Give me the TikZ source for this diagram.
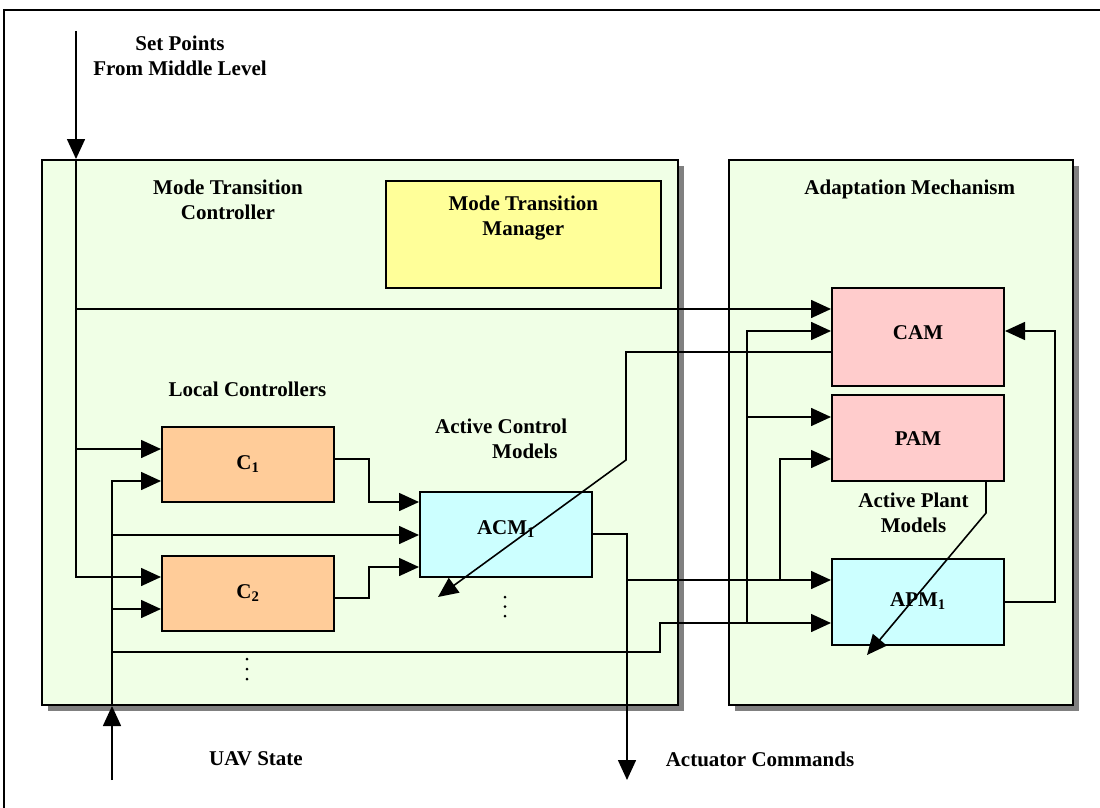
\documentclass[tikz,border=0pt]{standalone}
\usepackage{fontspec}
\setmainfont{Liberation Serif}
\usetikzlibrary{arrows.meta,shadows}
\definecolor{bggreen}{RGB}{240,255,230}
\definecolor{mtmyellow}{RGB}{255,255,153}
\definecolor{pinkbox}{RGB}{255,204,204}
\definecolor{cyanbox}{RGB}{204,255,255}
\definecolor{tanbox}{RGB}{255,204,153}
\begin{document}
\begin{tikzpicture}[x=1pt,y=-1pt,
  every node/.style={font=\fontsize{21}{25}\selectfont\bfseries},
  wire/.style={line width=1.6pt},
  arr/.style={line width=1.6pt,-{Triangle[length=20pt,width=18pt]}},
  bigbox/.style={draw,line width=2pt,fill=bggreen,inner sep=0pt,
    drop shadow={shadow xshift=6pt,shadow yshift=-6pt,fill=black!50,opacity=1}},
  blk/.style={draw,line width=2pt,inner sep=0pt,minimum width=172pt,text height=14pt},
  lbl/.style={inner sep=0pt,align=center},
  dotmark/.style={circle,fill=black,inner sep=0pt,minimum size=3pt}]
\useasboundingbox (0,0) rectangle (1100,808);
% outer frame
\draw[line width=1.6pt] (4,808) -- (4,10) -- (1100,10);

% containers
\node[bigbox,minimum width=636pt,minimum height=545pt] (mtc) at (360,432.5) {};
\node[bigbox,minimum width=344pt,minimum height=545pt] (am) at (901,432.5) {};

% blocks
\node[blk,fill=mtmyellow,minimum width=275pt,minimum height=107pt] (mtm) at (523.5,234.5) {};
\node[blk,fill=pinkbox,minimum height=98pt,text depth=10pt] (cam) at (918,337) {CAM};
\node[blk,fill=pinkbox,minimum height=86pt,text depth=0pt] (pam) at (918,438) {PAM};
\node[blk,fill=cyanbox,minimum height=86pt,text depth=6pt] (apm) at (918,602) {APM\textsubscript{1}};
\node[blk,fill=tanbox,minimum height=75pt,text depth=5pt] (c1) at (248,464.5) {C\textsubscript{1}};
\node[blk,fill=tanbox,minimum height=75pt,text depth=4pt] (c2) at (248,593.5) {C\textsubscript{2}};
\node[blk,fill=cyanbox,minimum height=85pt,text depth=15pt] (acm) at (506,534.5) {ACM\textsubscript{1}};

% labels
\node[lbl] (sptext) at (180,55.4) {Set Points\\From Middle Level};
\node[lbl] (mtctext) at (228,199.4) {Mode Transition\\Controller};
\node[lbl] (mtmtext) at (523.3,218.5) {Mode Transition\\Manager};
\node[lbl] (amtext) at (909.7,189.3) {Adaptation Mechanism};
\node[lbl] (lctext) at (247.5,389.5) {Local Controllers};
\node[lbl,align=left,anchor=west] (acmtext) at (435,438.6) {Active Control\\\hspace*{57pt}Models};
\node[lbl] (apmtext) at (913.5,513) {Active Plant\\Models};
\node[lbl] (uavtext) at (256,759) {UAV State};
\node[lbl] (acttext) at (760,759) {Actuator Commands};

% vertical ellipses
\foreach \yy [count=\i] in {597,606.5,616} \node[dotmark] (da\i) at (505,\yy) {};
\foreach \yy [count=\i] in {659,669,679} \node[dotmark] (db\i) at (247,\yy) {};

% free ends
\coordinate (sptop) at (76,31);
\coordinate (uavbot) at (112,780);
\coordinate (actbot) at (627,780);
\coordinate (camfb) at (438,597);
\coordinate (pamfb) at (867,655);

% set points bus
\draw[arr] (sptop) -- (mtc.north -| sptop);
\draw[arr] (76,160) -- (76,577) -- (c2.west |- 0,577);
\draw[arr] (76,309) -- (cam.west |- 0,309);
\draw[arr] (76,449) -- (c1.west |- 0,449);

% UAV state bus
\draw[arr] (uavbot) -- (mtc.south -| uavbot);
\draw[arr] (112,705) -- (112,481) -- (c1.west |- 0,481);
\draw[arr] (112,535) -- (acm.west |- 0,535);
\draw[arr] (112,609) -- (c2.west |- 0,609);
\draw[arr] (112,652) -- (660,652) -- (660,623) -- (apm.west |- 0,623);
\draw[arr] (747,623) -- (747,331) -- (cam.west |- 0,331);
\draw[arr] (747,417) -- (pam.west |- 0,417);

% controllers to ACM
\draw[arr] (c1.east |- 0,459) -- (369,459) -- (369,502) -- (acm.west |- 0,502);
\draw[arr] (c2.east |- 0,598) -- (369,598) -- (369,567) -- (acm.west |- 0,567);

% ACM output
\draw[arr] (acm.east |- 0,534) -- (627,534) -- (actbot);
\draw[arr] (627,580) -- (apm.west |- 0,580);
\draw[arr] (780,580) -- (780,459) -- (pam.west |- 0,459);

% feedbacks
\draw[arr] (cam.west |- 0,352) -- (626,352) -- (626,460) -- (camfb);
\draw[arr] (pam.south -| 986,0) -- (986,513) -- (pamfb);
\draw[arr] (apm.east |- 0,602) -- (1055,602) -- (1055,331) -- (cam.east |- 0,331);
\end{tikzpicture}
\end{document}
